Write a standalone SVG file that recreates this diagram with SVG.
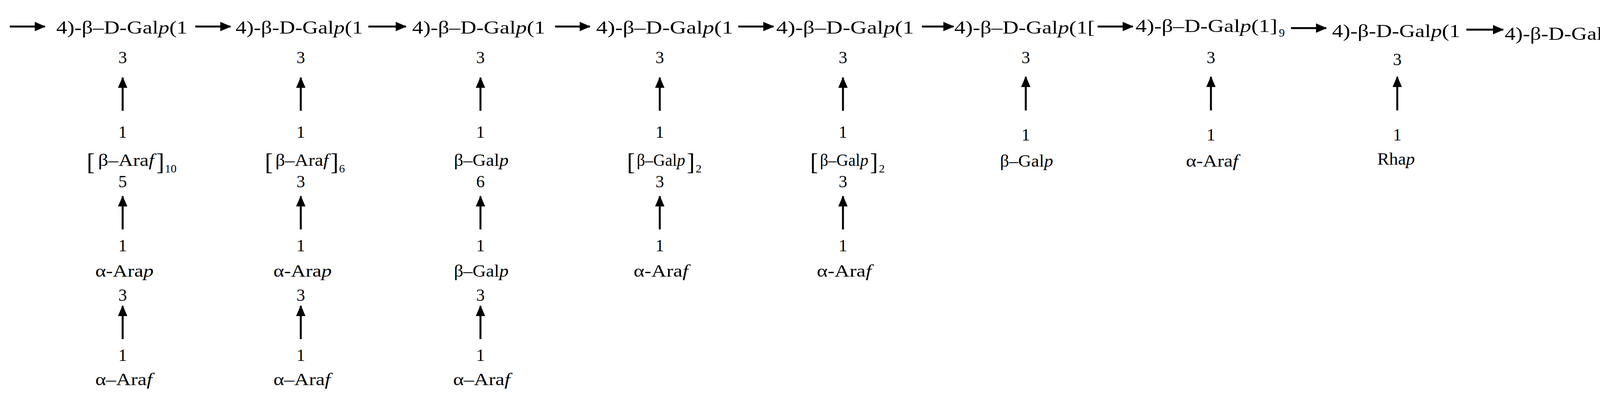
<svg xmlns="http://www.w3.org/2000/svg" width="4306" height="1020" viewBox="0 0 4306 1020">
<style>
text{font-family:"Liberation Serif","Times New Roman",serif;font-size:44px;fill:#000}
.m{font-size:46px}
.c{text-anchor:middle}
.b{font-size:62px}
.s{font-size:30px}
.ln{stroke:#000;stroke-width:5;fill:none}
</style>
<defs>
<marker id="ah" markerUnits="userSpaceOnUse" markerWidth="30" markerHeight="24" refX="26" refY="12" orient="auto"><path d="M0,0 L28,12 L0,24 Z" fill="#000"/></marker>
</defs>
<g id="connectors">
<line class="ln" x1="25" y1="68" x2="115" y2="68" marker-end="url(#ah)"/>
<line class="ln" x1="500" y1="68" x2="590" y2="68" marker-end="url(#ah)"/>
<line class="ln" x1="943" y1="68" x2="1039" y2="68" marker-end="url(#ah)"/>
<line class="ln" x1="1421" y1="68" x2="1510" y2="68" marker-end="url(#ah)"/>
<line class="ln" x1="1890" y1="68" x2="1980" y2="68" marker-end="url(#ah)"/>
<line class="ln" x1="2360" y1="68" x2="2441" y2="68" marker-end="url(#ah)"/>
<line class="ln" x1="2810" y1="68" x2="2900" y2="68" marker-end="url(#ah)"/>
<line class="ln" x1="3305" y1="72" x2="3395" y2="72" marker-end="url(#ah)"/>
<line class="ln" x1="3754" y1="76" x2="3848" y2="76" marker-end="url(#ah)"/>
<line class="ln" x1="4201" y1="76" x2="4290" y2="76" marker-end="url(#ah)"/>
<g id="v1"><line class="ln" x1="314" y1="284" x2="314" y2="199" marker-end="url(#ah)"/><line class="ln" x1="314" y1="588" x2="314" y2="503" marker-end="url(#ah)"/><line class="ln" x1="314" y1="869" x2="314" y2="784" marker-end="url(#ah)"/></g>
<g id="v2"><line class="ln" x1="770" y1="284" x2="770" y2="199" marker-end="url(#ah)"/><line class="ln" x1="770" y1="588" x2="770" y2="503" marker-end="url(#ah)"/><line class="ln" x1="770" y1="869" x2="770" y2="784" marker-end="url(#ah)"/></g>
<g id="v3"><line class="ln" x1="1230" y1="284" x2="1230" y2="199" marker-end="url(#ah)"/><line class="ln" x1="1230" y1="588" x2="1230" y2="503" marker-end="url(#ah)"/><line class="ln" x1="1230" y1="869" x2="1230" y2="784" marker-end="url(#ah)"/></g>
<g id="v4"><line class="ln" x1="1689" y1="284" x2="1689" y2="199" marker-end="url(#ah)"/><line class="ln" x1="1689" y1="588" x2="1689" y2="503" marker-end="url(#ah)"/></g>
<g id="v5"><line class="ln" x1="2158" y1="284" x2="2158" y2="199" marker-end="url(#ah)"/><line class="ln" x1="2158" y1="588" x2="2158" y2="503" marker-end="url(#ah)"/></g>
<line class="ln" x1="2626" y1="283" x2="2626" y2="197" marker-end="url(#ah)"/>
<line class="ln" x1="3100" y1="283" x2="3100" y2="197" marker-end="url(#ah)"/>
<line class="ln" x1="3577" y1="283" x2="3577" y2="197" marker-end="url(#ah)"/>
</g>
<g id="main">
<text class="m" x="144" y="86" textLength="336" lengthAdjust="spacingAndGlyphs">4)-β–D-Gal<tspan font-style="italic">p</tspan>(1</text>
<text class="m" x="603" y="86" textLength="326" lengthAdjust="spacingAndGlyphs">4)-β-D-Gal<tspan font-style="italic">p</tspan>(1</text>
<text class="m" x="1055" y="86" textLength="341" lengthAdjust="spacingAndGlyphs">4)-β–D-Gal<tspan font-style="italic">p</tspan>(1</text>
<text class="m" x="1526" y="86" textLength="351" lengthAdjust="spacingAndGlyphs">4)-β–D-Gal<tspan font-style="italic">p</tspan>(1</text>
<text class="m" x="1987" y="86" textLength="353" lengthAdjust="spacingAndGlyphs">4)-β–D-Gal<tspan font-style="italic">p</tspan>(1</text>
<text class="m" x="2443" y="86" textLength="360" lengthAdjust="spacingAndGlyphs">4)-β–D-Gal<tspan font-style="italic">p</tspan>(1[</text>
<text class="m" x="2907" y="82" textLength="363" lengthAdjust="spacingAndGlyphs">4)-β–D-Gal<tspan font-style="italic">p</tspan>(1]</text>
<text class="s" x="3274" y="94">9</text>
<text class="m" x="3410" y="95" textLength="328" lengthAdjust="spacingAndGlyphs">4)-β-D-Gal<tspan font-style="italic">p</tspan>(1</text>
<text class="m" x="3852" y="102" textLength="325" lengthAdjust="spacingAndGlyphs">4)-β-D-Gal<tspan font-style="italic">p</tspan>(1</text>
</g>
<g id="col1">
<text class="c" x="314" y="162">3</text><text class="c" x="314" y="353">1</text>
<text class="b" x="222" y="436">[</text><text x="251" y="425" textLength="144" lengthAdjust="spacingAndGlyphs">β–Ara<tspan font-style="italic">f</tspan></text><text class="b" x="400" y="436">]</text><text class="s" x="422" y="442">10</text>
<text class="c" x="314" y="480">5</text><text class="c" x="314" y="644">1</text>
<text x="244" y="709" textLength="149" lengthAdjust="spacingAndGlyphs">α-Ara<tspan font-style="italic">p</tspan></text>
<text class="c" x="314" y="771">3</text><text class="c" x="314" y="925">1</text>
<text x="244" y="987" textLength="146" lengthAdjust="spacingAndGlyphs">α–Ara<tspan font-style="italic">f</tspan></text>
</g>
<g id="col2">
<text class="c" x="770" y="162">3</text><text class="c" x="770" y="353">1</text>
<text class="b" x="678" y="436">[</text><text x="705" y="425" textLength="136" lengthAdjust="spacingAndGlyphs">β–Ara<tspan font-style="italic">f</tspan></text><text class="b" x="846" y="436">]</text><text class="s" x="868" y="442">6</text>
<text class="c" x="770" y="480">3</text><text class="c" x="770" y="644">1</text>
<text x="700" y="709" textLength="149" lengthAdjust="spacingAndGlyphs">α-Ara<tspan font-style="italic">p</tspan></text>
<text class="c" x="770" y="771">3</text><text class="c" x="770" y="925">1</text>
<text x="700" y="987" textLength="146" lengthAdjust="spacingAndGlyphs">α–Ara<tspan font-style="italic">f</tspan></text>
</g>
<g id="col3">
<text class="c" x="1230" y="162">3</text><text class="c" x="1230" y="353">1</text>
<text x="1162" y="425" textLength="140" lengthAdjust="spacingAndGlyphs">β–Gal<tspan font-style="italic">p</tspan></text>
<text class="c" x="1230" y="480">6</text><text class="c" x="1230" y="644">1</text>
<text x="1162" y="709" textLength="140" lengthAdjust="spacingAndGlyphs">β–Gal<tspan font-style="italic">p</tspan></text>
<text class="c" x="1230" y="771">3</text><text class="c" x="1230" y="925">1</text>
<text x="1160" y="987" textLength="146" lengthAdjust="spacingAndGlyphs">α–Ara<tspan font-style="italic">f</tspan></text>
</g>
<g id="col4">
<text class="c" x="1689" y="162">3</text><text class="c" x="1689" y="353">1</text>
<text class="b" x="1605" y="436">[</text><text x="1630" y="425" textLength="124" lengthAdjust="spacingAndGlyphs">β–Gal<tspan font-style="italic">p</tspan></text><text class="b" x="1758" y="436">]</text><text class="s" x="1781" y="442">2</text>
<text class="c" x="1689" y="480">3</text><text class="c" x="1689" y="644">1</text>
<text x="1622" y="709" textLength="140" lengthAdjust="spacingAndGlyphs">α-Ara<tspan font-style="italic">f</tspan></text>
</g>
<g id="col5">
<text class="c" x="2158" y="162">3</text><text class="c" x="2158" y="353">1</text>
<text class="b" x="2074" y="436">[</text><text x="2099" y="425" textLength="124" lengthAdjust="spacingAndGlyphs">β–Gal<tspan font-style="italic">p</tspan></text><text class="b" x="2227" y="436">]</text><text class="s" x="2250" y="442">2</text>
<text class="c" x="2158" y="480">3</text><text class="c" x="2158" y="644">1</text>
<text x="2091" y="709" textLength="140" lengthAdjust="spacingAndGlyphs">α-Ara<tspan font-style="italic">f</tspan></text>
</g>
<g id="col6">
<text class="c" x="2626" y="162">3</text><text class="c" x="2626" y="360">1</text>
<text x="2560" y="427" textLength="136" lengthAdjust="spacingAndGlyphs">β–Gal<tspan font-style="italic">p</tspan></text>
</g>
<g id="col7">
<text class="c" x="3100" y="162">3</text><text class="c" x="3100" y="360">1</text>
<text x="3036" y="427" textLength="134" lengthAdjust="spacingAndGlyphs">α-Ara<tspan font-style="italic">f</tspan></text>
</g>
<g id="col8">
<text class="c" x="3577" y="167">3</text><text class="c" x="3577" y="360">1</text>
<text x="3526" y="422" textLength="96" lengthAdjust="spacingAndGlyphs">Rha<tspan font-style="italic">p</tspan></text>
</g>
</svg>
